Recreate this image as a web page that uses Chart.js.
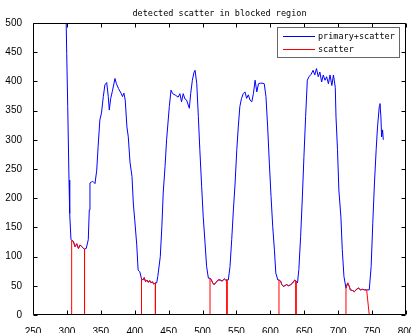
<!DOCTYPE html>
<html>
<head>
<meta charset="utf-8">
<script src="https://cdn.jsdelivr.net/npm/chart.js@4/dist/chart.umd.min.js"></script>
<style>
  html, body { margin: 0; padding: 0; background: #fff; }
  canvas { display: block; }
</style>
</head>
<body>
<canvas id="chart" width="411" height="333"></canvas>
<script>
// 标题和图例
const TITLE = 'detected scatter in blocked region';
const SERIES_LABELS = ['primary+scatter', 'scatter'];

// 坐标轴范围
const X_RANGE = [250, 800, 50];
const Y_RANGE = [0, 500, 50];

// primary+scatter (蓝线)
const blueX = [298.5, 299.7, 301.2, 303.1, 304.1, 306, 307, 309.5, 312, 314.5, 317, 319.5, 322, 324.4, 326,
  328.5, 331.5, 333, 334, 336.5, 338, 341.4, 344, 346, 348.6, 351, 353.7, 356, 358.7, 361, 362.5, 364.6, 367, 370.9,
  373, 376, 379.7, 382, 384, 386, 388.5, 390.5, 393, 396, 398, 400, 403, 405, 407.5, 410,
  412, 414, 416, 418, 420, 422, 424, 426, 428, 430.5,
  432.4, 434, 437.7, 440, 442, 444.7, 447, 451, 453.5, 456, 460.6, 464, 466.6, 469, 471.5, 474, 476.5, 480.5,
  482.5, 485, 487.5, 489, 491.5, 493.8, 496, 498.7, 501, 503.7, 506, 508.6, 511,
  513, 515, 517, 520, 523, 526, 529, 532, 534, 536,
  538, 540.5, 543, 545.5, 548, 550.5, 552.7, 555, 557.5, 560, 562.6, 565, 567.5, 570, 572.6, 575, 577.5, 580,
  582.5, 585, 587.7, 591, 593.5, 596, 598.5, 601, 603.5, 606, 608, 611, 612.7,
  615, 617, 619, 621, 624, 627, 630, 633, 636, 637.8,
  640, 642, 644.6, 647, 649.5, 652, 654.5, 657, 660, 663, 665.5, 668, 670.6, 673, 675.6, 678, 680.6, 683, 685.6,
  688, 690.7, 693, 695.7, 696.8, 699, 701, 704, 706, 708.5, 711.5,
  714, 716, 718, 721, 724, 727, 730, 733, 736, 739, 742, 745.8,
  748.6, 751, 753.5, 756, 758, 760.6, 761.6, 763, 764, 765.5, 766.5];
const blueY = [530, 448, 357, 231, 174, 129, 128, 126, 117, 122, 114, 120, 117, 114, 113,
  114, 129, 180, 226, 228, 229, 225, 248, 288, 334, 346, 374, 394, 398, 374, 351, 371, 383, 405,
  396, 388, 380, 374, 380, 368, 322, 305, 262, 237, 190, 163, 120, 77, 74, 62,
  60, 64, 57, 60, 56, 59, 55, 57, 53, 55,
  55, 66, 100, 151, 209, 254, 300, 357, 385, 379, 376, 373, 379, 365, 379, 370, 368, 354,
  379, 402, 416, 419, 396, 340, 283, 220, 168, 123, 83, 63, 63,
  60, 55, 52, 56, 60, 60, 58, 62, 60, 60,
  60, 83, 129, 180, 226, 283, 322, 357, 371, 379, 382, 371, 377, 368, 365, 379, 402, 382,
  396, 397, 397, 396, 374, 322, 260, 203, 151, 111, 72, 60, 60,
  58, 52, 49, 50, 52, 50, 52, 55, 60, 58,
  55, 78, 134, 197, 271, 340, 402, 408, 412, 419, 411, 422, 408, 416, 399, 411, 402, 408, 396,
  411, 393, 411, 390, 339, 283, 214, 168, 112, 66, 46,
  55, 50, 43, 42, 40, 44, 46, 43, 44, 43, 43, 43,
  83, 157, 226, 283, 322, 357, 362, 339, 305, 317, 300];

// scatter (红线)，null 为断开
const redX = [307, 307, 309.5, 312, 314.5, 317, 319.5, 322, 324.4, 326, 326, null,
  410, 410, 412, 414, 416, 418, 420, 422, 424, 426, 428, 430.5, 430.5, null,
  511, 511, 513, 515, 517, 520, 523, 526, 529, 532, 534, 536, 536, null,
  612.7, 612.7, 615, 617, 619, 621, 624, 627, 630, 633, 636, 637.8, 637.8, null,
  711.5, 711.5, 714, 716, 718, 721, 724, 727, 730, 733, 736, 739, 742, 745.8, 745.8];
const redY = [0, 128, 126, 117, 122, 114, 120, 117, 114, 113, 0, null,
  0, 62, 60, 64, 57, 60, 56, 59, 55, 57, 53, 55, 0, null,
  0, 63, 60, 55, 52, 56, 60, 60, 58, 62, 60, 60, 0, null,
  0, 60, 58, 52, 49, 50, 52, 50, 52, 55, 60, 58, 0, null,
  0, 46, 55, 50, 43, 42, 40, 44, 46, 43, 44, 43, 43, 0];

function toPoints(xs, ys) {
  return xs.map((x, i) => ({ x: x === null ? NaN : x, y: ys[i] }));
}

// 坐标框、内向刻度、标题、图例
const matlabAxes = {
  id: 'matlabAxes',
  afterDraw(chart) {
    const ctx = chart.ctx;
    const a = chart.chartArea;
    const xs = chart.scales.x;
    const ys = chart.scales.y;
    const L = Math.round(a.left) + 0.5, R = Math.round(a.right) - 0.5;
    const T = Math.round(a.top) + 0.5, B = Math.round(a.bottom) - 0.5;
    ctx.save();
    ctx.strokeStyle = '#000';
    ctx.lineWidth = 1;
    ctx.beginPath();
    ctx.rect(L, T, R - L, B - T);
    xs.ticks.forEach(t => {
      const px = Math.round(xs.getPixelForValue(t.value)) + 0.5;
      ctx.moveTo(px, B); ctx.lineTo(px, B - 4);
      ctx.moveTo(px, T); ctx.lineTo(px, T + 4);
    });
    ys.ticks.forEach(t => {
      const py = Math.round(ys.getPixelForValue(t.value)) + 0.5;
      ctx.moveTo(L, py); ctx.lineTo(L + 4, py);
      ctx.moveTo(R, py); ctx.lineTo(R - 4, py);
    });
    ctx.stroke();

    // 标题
    ctx.fillStyle = '#000';
    ctx.font = '8.5px "DejaVu Sans Mono"';
    ctx.textAlign = 'center';
    ctx.textBaseline = 'middle';
    ctx.fillText(TITLE, (a.left + a.right) / 2, 14);

    // 图例
    const bx = 277.5, by = 27.5, bw = 122, bh = 30;
    ctx.fillStyle = '#fff';
    ctx.fillRect(bx, by, bw, bh);
    ctx.strokeStyle = '#666';
    ctx.strokeRect(bx, by, bw, bh);
    ctx.textAlign = 'left';
    chart.data.datasets.forEach((ds, i) => {
      const ly = 36.5 + i * 13;
      ctx.strokeStyle = ds.borderColor;
      ctx.beginPath();
      ctx.moveTo(283, ly); ctx.lineTo(315, ly);
      ctx.stroke();
      ctx.fillStyle = '#000';
      ctx.fillText(ds.label, 318, ly);
    });
    ctx.restore();
  }
};

new Chart(document.getElementById('chart'), {
  type: 'line',
  data: {
    datasets: [
      {
        label: SERIES_LABELS[0],
        data: toPoints(blueX, blueY),
        borderColor: '#0000ff',
        borderWidth: 1,
        pointRadius: 0,
        tension: 0,
        fill: false,
        order: 1
      },
      {
        label: SERIES_LABELS[1],
        data: toPoints(redX, redY),
        borderColor: '#ff0000',
        borderWidth: 1,
        pointRadius: 0,
        tension: 0,
        fill: false,
        spanGaps: false,
        order: 0
      }
    ]
  },
  options: {
    responsive: false,
    animation: false,
    layout: { padding: { top: 23, right: 5, left: 0, bottom: 0 } },
    plugins: {
      legend: { display: false },
      title: { display: false },
      tooltip: { enabled: false }
    },
    scales: {
      x: {
        type: 'linear',
        min: X_RANGE[0],
        max: X_RANGE[1],
        grid: { display: false },
        border: { display: false },
        ticks: {
          stepSize: X_RANGE[2],
          color: '#000',
          padding: 3,
          maxRotation: 0,
          autoSkip: false,
          font: { family: 'Liberation Sans', size: 10 }
        },
        afterFit(scale) {
          scale.height = 18;
          scale.paddingLeft = 0;
          scale.paddingRight = 0;
        }
      },
      y: {
        type: 'linear',
        min: Y_RANGE[0],
        max: Y_RANGE[1],
        grid: { display: false },
        border: { display: false },
        ticks: {
          stepSize: Y_RANGE[2],
          color: '#000',
          padding: 3,
          autoSkip: false,
          font: { family: 'Liberation Sans', size: 10 }
        },
        afterFit(scale) {
          scale.width = 33;
          scale.paddingTop = 0;
          scale.paddingBottom = 0;
        }
      }
    }
  },
  plugins: [matlabAxes]
});
</script>
</body>
</html>
